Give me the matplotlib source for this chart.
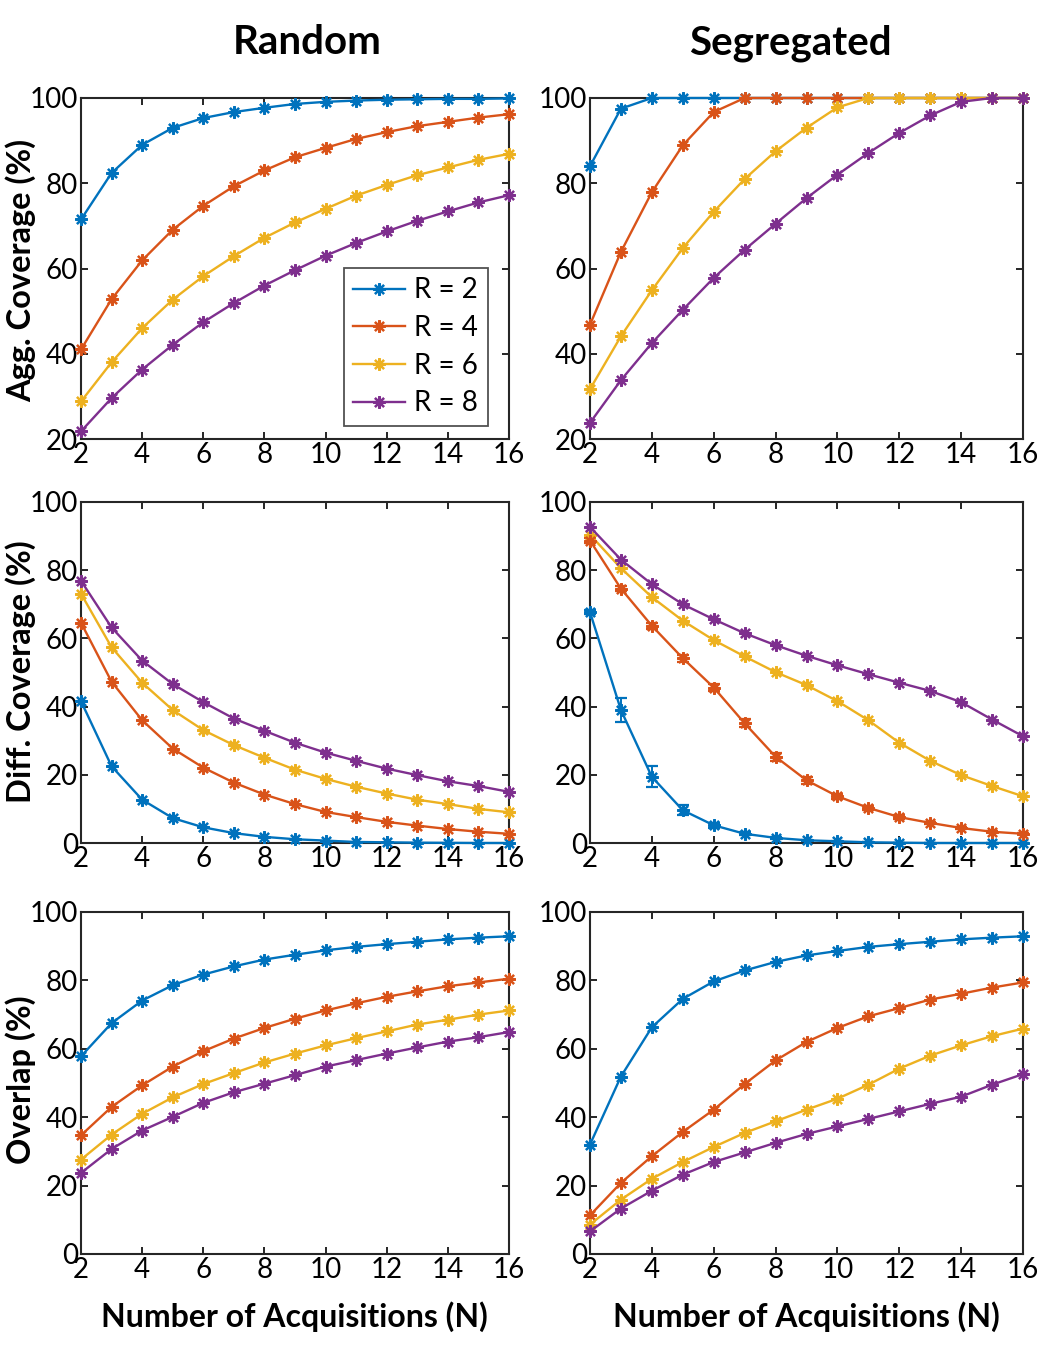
import matplotlib
matplotlib.use("Agg")
import matplotlib.pyplot as plt
import numpy as np

plt.rcParams['font.family'] = ['Lato', 'DejaVu Sans']

N = list(range(2, 17))
labels = ["R = 2", "R = 4", "R = 6", "R = 8"]
colors = ["#0072BD", "#D95319", "#EDB120", "#7E2F8E"]

# Aggregate coverage (%)
agg_random_r2 = [71.5, 82.4, 89.0, 93.0, 95.3, 96.7, 97.7, 98.6, 99.1, 99.4, 99.6, 99.7, 99.8, 99.8, 99.9]
agg_random_r4 = [41.0, 52.8, 61.9, 69.1, 74.7, 79.3, 83.0, 86.1, 88.3, 90.4, 92.0, 93.4, 94.4, 95.4, 96.2]
agg_random_r6 = [28.8, 38.0, 46.0, 52.7, 58.2, 62.9, 67.2, 70.8, 74.0, 77.1, 79.6, 81.9, 83.7, 85.5, 86.9]
agg_random_r8 = [21.8, 29.6, 36.3, 42.1, 47.4, 51.9, 56.0, 59.6, 63.0, 66.0, 68.7, 71.2, 73.4, 75.5, 77.2]

agg_seg_r2 = [84.0, 97.5, 100, 100, 100, 100, 100, 100, 100, 100, 100, 100, 100, 100, 100]
agg_seg_r4 = [46.8, 63.9, 77.9, 88.9, 96.7, 100, 100, 100, 100, 100, 100, 100, 100, 100, 100]
agg_seg_r6 = [31.7, 44.1, 54.9, 64.8, 73.3, 81.0, 87.5, 93.0, 97.8, 100, 100, 100, 100, 100, 100]
agg_seg_r8 = [23.8, 33.8, 42.5, 50.3, 57.8, 64.4, 70.5, 76.5, 82.0, 87.1, 91.8, 95.9, 99.1, 100, 100]

# Differential coverage (%)
diff_random_r2 = [41.6, 22.5, 12.7, 7.3, 4.6, 2.9, 1.8, 1.1, 0.7, 0.3, 0.2, 0.1, 0.05, 0.0, 0.0]
diff_random_r4 = [64.6, 47.3, 36.0, 27.7, 22.1, 17.7, 14.2, 11.4, 9.1, 7.6, 6.2, 5.1, 4.1, 3.3, 2.7]
diff_random_r6 = [73.1, 57.4, 47.0, 39.0, 33.1, 28.7, 25.0, 21.5, 18.8, 16.5, 14.5, 12.7, 11.4, 10.0, 9.0]
diff_random_r8 = [76.9, 63.2, 53.5, 46.6, 41.3, 36.5, 32.9, 29.4, 26.5, 24.1, 21.8, 19.9, 18.1, 16.7, 15.0]

diff_seg_r2 = [67.7, 39.0, 19.4, 9.6, 5.2, 2.7, 1.5, 0.8, 0.5, 0.2, 0.1, 0.0, 0.0, 0.0, 0.0]
diff_seg_r4 = [88.7, 74.6, 63.7, 54.2, 45.6, 35.1, 25.3, 18.4, 13.7, 10.3, 7.6, 5.9, 4.4, 3.3, 2.7]
diff_seg_r6 = [90.4, 80.6, 72.1, 65.2, 59.5, 54.7, 50.1, 46.3, 41.6, 36.0, 29.4, 24.1, 19.9, 16.7, 13.7]
diff_seg_r8 = [92.7, 83.1, 75.9, 70.0, 65.6, 61.5, 58.0, 54.9, 52.1, 49.5, 47.0, 44.6, 41.3, 36.2, 31.3]

diff_seg_r2_err = [0.5, 3.4, 3.1, 1.5, 0.8, 0.4, 0.2, 0.1, 0.1, 0.0, 0.0, 0.0, 0.0, 0.0, 0.0]
diff_seg_r4_err = [0.6, 0.8, 0.9, 1.0, 1.0, 1.2, 1.2, 1.0, 0.8, 0.6, 0.5, 0.3, 0.2, 0.2, 0.1]

# Overlap (%)
ovl_random_r2 = [57.8, 67.5, 74.1, 78.6, 81.7, 84.1, 86.1, 87.5, 88.8, 89.8, 90.6, 91.3, 92.0, 92.5, 92.9]
ovl_random_r4 = [34.7, 43.0, 49.3, 54.8, 59.3, 63.0, 66.1, 68.8, 71.2, 73.3, 75.2, 76.8, 78.3, 79.4, 80.5]
ovl_random_r6 = [27.6, 34.9, 41.0, 45.8, 49.7, 52.9, 56.0, 58.6, 61.0, 63.1, 65.1, 67.1, 68.5, 70.0, 71.2]
ovl_random_r8 = [23.7, 30.7, 36.1, 40.1, 44.2, 47.3, 49.8, 52.3, 54.8, 56.7, 58.6, 60.4, 62.1, 63.4, 64.9]

ovl_seg_r2 = [32.0, 51.9, 66.3, 74.6, 79.7, 82.9, 85.4, 87.3, 88.6, 89.8, 90.6, 91.3, 92.0, 92.5, 92.9]
ovl_seg_r4 = [11.3, 20.8, 28.6, 35.7, 42.2, 49.7, 56.6, 62.0, 66.1, 69.5, 71.9, 74.4, 76.1, 77.9, 79.4]
ovl_seg_r6 = [8.6, 15.9, 22.0, 26.9, 31.3, 35.4, 38.8, 42.2, 45.4, 49.5, 54.2, 58.0, 61.0, 63.7, 65.9]
ovl_seg_r8 = [6.6, 13.3, 18.5, 23.2, 26.9, 29.7, 32.5, 35.1, 37.3, 39.5, 41.7, 43.9, 46.0, 49.5, 52.6]

x_ticks = [2, 4, 6, 8, 10, 12, 14, 16]
col_titles = ["Random", "Segregated"]
row_labels = ["Agg. Coverage (%)", "Diff. Coverage (%)", "Overlap (%)"]
x_label = "Number of Acquisitions (N)"

W, H = 1039, 1356
fig = plt.figure(figsize=(W / 100, H / 100), dpi=100)

col_px = [(81, 509), (590, 1023)]
row_px = [(98, 439), (502, 843), (912, 1254)]

panels = [
    [([agg_random_r2, agg_random_r4, agg_random_r6, agg_random_r8], None, (20, 100)),
     ([agg_seg_r2, agg_seg_r4, agg_seg_r6, agg_seg_r8], None, (20, 100))],
    [([diff_random_r2, diff_random_r4, diff_random_r6, diff_random_r8], None, (0, 100)),
     ([diff_seg_r2, diff_seg_r4, diff_seg_r6, diff_seg_r8],
      [diff_seg_r2_err, diff_seg_r4_err, None, None], (0, 100))],
    [([ovl_random_r2, ovl_random_r4, ovl_random_r6, ovl_random_r8], None, (0, 100)),
     ([ovl_seg_r2, ovl_seg_r4, ovl_seg_r6, ovl_seg_r8], None, (0, 100))],
]

marker = (8, 2, 0)
TICK_FS = 20

for r, (y0, y1) in enumerate(row_px):
    for c, (x0, x1) in enumerate(col_px):
        ax = fig.add_axes([x0 / W, 1 - y1 / H, (x1 - x0) / W, (y1 - y0) / H])
        series, errs, ylim = panels[r][c]
        for i, ys in enumerate(series):
            if errs is not None and errs[i] is not None:
                ax.errorbar(N, ys, yerr=errs[i], color=colors[i], lw=1.7,
                            marker=marker, ms=9, mew=1.6, capsize=4, elinewidth=1.4,
                            label=labels[i], clip_on=False, zorder=3)
            else:
                ax.plot(N, ys, color=colors[i], lw=1.7, marker=marker, ms=9, mew=1.6,
                        label=labels[i], clip_on=False, zorder=3)
        ax.set_xlim(2, 16)
        ax.set_ylim(*ylim)
        ax.set_xticks(x_ticks)
        ax.set_yticks(np.arange(ylim[0], 101, 20))
        ax.tick_params(direction='in', length=5, width=1.2, top=True, right=True,
                       labelsize=TICK_FS, pad=2, colors='black')
        for sp in ax.spines.values():
            sp.set_linewidth(1.5)
            sp.set_color('#262626')
        if r == 0 and c == 0:
            leg = ax.legend(loc='lower right', bbox_to_anchor=(0.951, 0.038),
                            borderaxespad=0, fontsize=20, frameon=True, fancybox=False,
                            edgecolor='#262626', handlelength=1.85, handletextpad=0.35,
                            labelspacing=0.42, borderpad=0.35)
            leg.get_frame().set_linewidth(1.3)

# Column titles
fig.text(307 / W, 1 - 43 / H, col_titles[0], ha='center', va='center',
         fontsize=29, fontweight='bold')
fig.text(790 / W, 1 - 43 / H, col_titles[1], ha='center', va='center',
         fontsize=29, fontweight='bold')

# Row labels
row_label_y = [270, 672, 1080]
for lab, yy in zip(row_labels, row_label_y):
    fig.text(21 / W, 1 - yy / H, lab, ha='center', va='center', rotation=90,
             fontsize=23.5, fontweight='bold')

# X labels
for xc in (294, 806):
    fig.text(xc / W, 1 - 1317 / H, x_label, ha='center', va='center',
             fontsize=23, fontweight='bold')

fig.savefig("out.png", dpi=100)
